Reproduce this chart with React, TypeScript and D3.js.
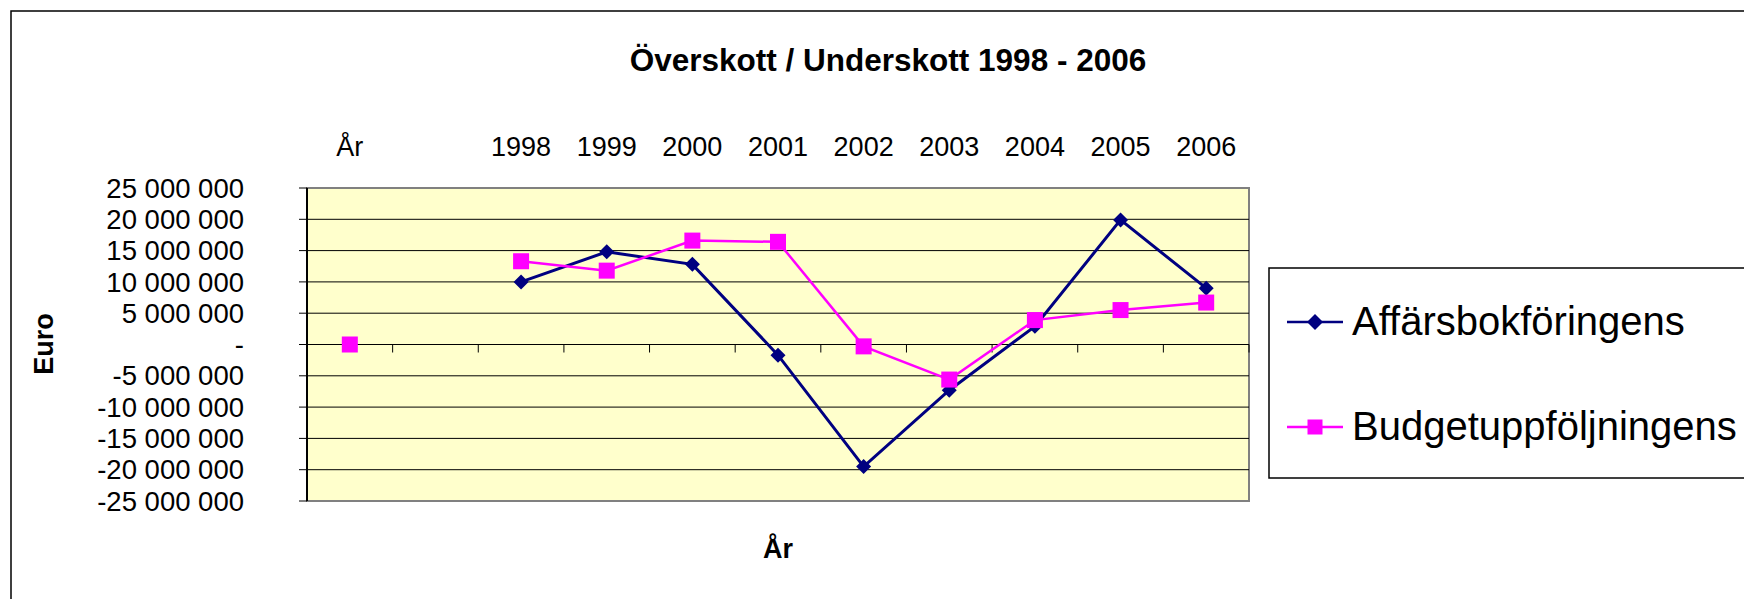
import React from "react";
import { scaleBand, scaleLinear, line, format } from "d3";

// category axis: the "År" header cell, one empty column, then the years
const categories = ["År", "", "1998", "1999", "2000", "2001", "2002", "2003", "2004", "2005", "2006"];
const affarsValues: (number | null)[] = [null, null, 10.0e6, 14.8e6, 12.8e6, -1.7e6, -19.5e6, -7.3e6, 2.9e6, 19.9e6, 9.0e6];
const budgetValues: (number | null)[] = [0, null, 13.3e6, 11.8e6, 16.6e6, 16.4e6, -0.3e6, -5.6e6, 3.9e6, 5.5e6, 6.7e6];
const yTicks = [25e6, 20e6, 15e6, 10e6, 5e6, 0, -5e6, -10e6, -15e6, -20e6, -25e6];
const seriesNames = ["Affärsbokföringens", "Budgetuppföljningens"];

const W = 1744;
const H = 599;
const plot = { left: 307, right: 1249, top: 188, bottom: 501 };
const FONT = "'Liberation Sans', Arial, sans-serif";
const NAVY = "#000080";
const MAGENTA = "#FF00FF";

// "25 000 000", zero shown as a dash, plain hyphen for negatives
const fmt = (v: number) =>
  v === 0 ? "-" : format(",")(v).replace(/,/g, " ").replace("\u2212", "-");

const Diamond = ({ cx, cy, r = 7.5 }: { cx: number; cy: number; r?: number }) => (
  <path d={`M${cx},${cy - r}L${cx + r},${cy}L${cx},${cy + r}L${cx - r},${cy}Z`} fill={NAVY} />
);

const Square = ({ cx, cy, s = 16 }: { cx: number; cy: number; s?: number }) => (
  <rect x={cx - s / 2} y={cy - s / 2} width={s} height={s} fill={MAGENTA} />
);

export default function App() {
  const x = scaleBand<string>().domain(categories).range([plot.left, plot.right]).padding(0);
  const y = scaleLinear().domain([-25e6, 25e6]).range([plot.bottom, plot.top]);
  const cx = (i: number) => (x(categories[i]) as number) + x.bandwidth() / 2;

  const pathFor = (vals: (number | null)[]) =>
    line<number | null>()
      .defined((d) => d != null)
      .x((_, i) => cx(i))
      .y((d) => y(d as number))(vals) || "";

  const bw = x.bandwidth();

  return (
    <svg
      width={W}
      height={H}
      style={{ position: "absolute", left: 0, top: 0, background: "#fff" }}
      fontFamily={FONT}
    >
      {/* chart frame */}
      <rect x={11} y={11} width={W + 20} height={H + 20} fill="#fff" stroke="#000" strokeWidth={1.5} />

      <text x={888} y={71} textAnchor="middle" fontWeight="bold" fontSize={31.5}>
        Överskott / Underskott 1998 - 2006
      </text>

      {/* plot area */}
      <rect
        x={plot.left}
        y={plot.top}
        width={plot.right - plot.left}
        height={plot.bottom - plot.top}
        fill="#FFFFCC"
        stroke="#808080"
        strokeWidth={2}
      />
      {yTicks.map((t) => (
        <g key={t}>
          {t !== 25e6 && t !== -25e6 && (
            <line x1={plot.left} x2={plot.right} y1={y(t)} y2={y(t)} stroke="#000" strokeWidth={1} />
          )}
          <line x1={plot.left - 8} x2={plot.left} y1={y(t)} y2={y(t)} stroke="#000" strokeWidth={1} />
          <text x={244} y={y(t)} dy="0.35em" textAnchor="end" fontSize={27.5}>
            {fmt(t)}
          </text>
        </g>
      ))}
      <line x1={plot.left} x2={plot.left} y1={plot.top} y2={plot.bottom} stroke="#000" strokeWidth={2} />
      {/* category ticks on the zero line */}
      <line x1={plot.left} x2={plot.right} y1={y(0)} y2={y(0)} stroke="#000" strokeWidth={1} />
      {categories.map((c, i) => (
        <line
          key={"t" + i}
          x1={plot.left + (i + 1) * bw}
          x2={plot.left + (i + 1) * bw}
          y1={y(0)}
          y2={y(0) + 8}
          stroke="#000"
          strokeWidth={1}
        />
      ))}

      {/* category labels above the plot */}
      {categories.map((c, i) => (
        <text key={"c" + i} x={cx(i)} y={156} textAnchor="middle" fontSize={27}>
          {c}
        </text>
      ))}

      {/* series */}
      <path d={pathFor(affarsValues)} fill="none" stroke={NAVY} strokeWidth={3} />
      {affarsValues.map((v, i) => (v == null ? null : <Diamond key={"a" + i} cx={cx(i)} cy={y(v)} />))}
      <path d={pathFor(budgetValues)} fill="none" stroke={MAGENTA} strokeWidth={2.5} />
      {budgetValues.map((v, i) => (v == null ? null : <Square key={"b" + i} cx={cx(i)} cy={y(v)} />))}

      {/* axis titles */}
      <text x={778} y={558} textAnchor="middle" fontWeight="bold" fontSize={27}>
        År
      </text>
      <text transform="translate(53,344) rotate(-90)" textAnchor="middle" fontWeight="bold" fontSize={27}>
        Euro
      </text>

      {/* legend */}
      <rect x={1269} y={268} width={W} height={210} fill="#fff" stroke="#000" strokeWidth={1.5} />
      <g>
        <line x1={1287} x2={1343} y1={322} y2={322} stroke={NAVY} strokeWidth={2.5} />
        <Diamond cx={1315} cy={322} r={8} />
        <text x={1352} y={335} fontSize={40}>
          {seriesNames[0]}
        </text>
        <line x1={1287} x2={1343} y1={427} y2={427} stroke={MAGENTA} strokeWidth={2.5} />
        <Square cx={1315} cy={427} s={15} />
        <text x={1352} y={440} fontSize={40}>
          {seriesNames[1]}
        </text>
      </g>
    </svg>
  );
}
